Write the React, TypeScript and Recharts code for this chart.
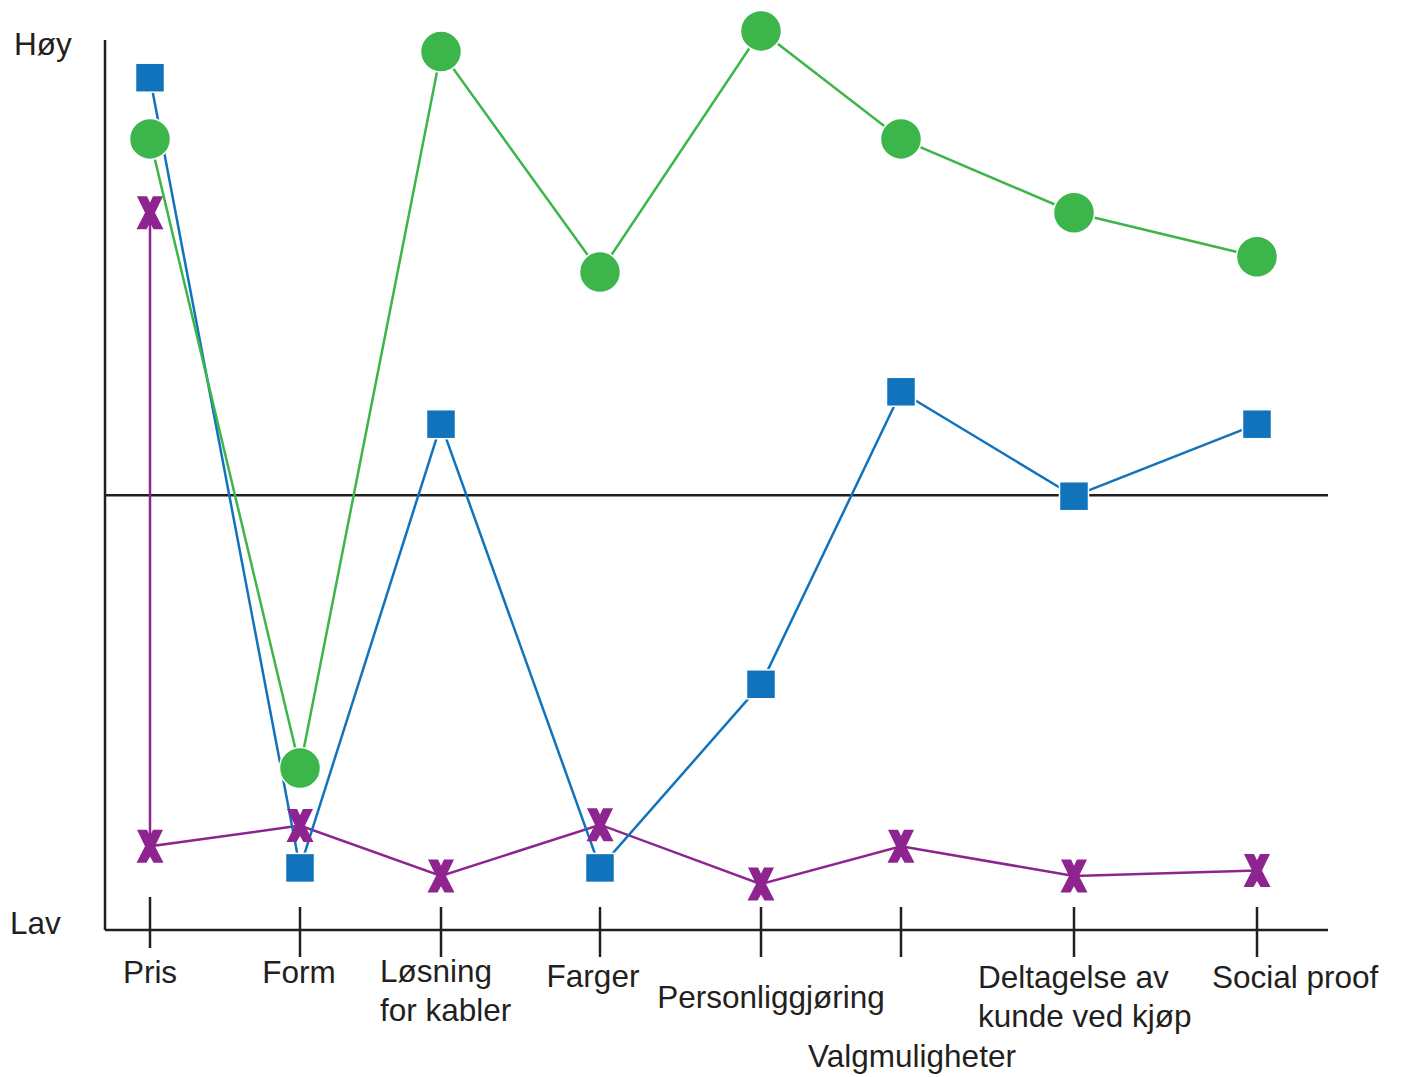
import { LineChart, Line, XAxis, YAxis, ReferenceLine } from 'recharts'

document.body.style.margin = '0'

// categories along the bottom (line breaks as in the original)
const categories = [
  'Pris',
  'Form',
  'Løsning\nfor kabler',
  'Farger',
  'Personliggjøring',
  'Valgmuligheter',
  'Deltagelse av\nkunde ved kjøp',
  'Social proof',
]
// categories are not evenly spaced
const categoryX = [45, 195, 336, 495, 656, 796, 969, 1152]

// 0 = Lav, 100 = Høy
const gronn = [87.9, 18.0, 97.6, 73.1, 99.9, 87.9, 79.7, 74.8]
const bla = [94.7, 6.9, 56.2, 6.9, 27.3, 59.8, 48.2, 56.2]
const lilla = [9.3, 11.6, 6.0, 11.7, 5.1, 9.3, 6.0, 6.6]
const lillaPrisTopp = 79.7
const midtlinje = 48.3
const aksetopp = 98.9

const yLabels = ['Lav', 'Høy']
const yLabelLevels = [0.8, 98.5]

const INK = '#231f20'
const GREEN = '#3cb54a'
const BLUE = '#1273bd'
const PURPLE = '#8d2490'
const FONT = '"Liberation Sans", Arial, Helvetica, sans-serif'

// label placement under each tick (dx from tick, baseline dy from axis)
const labelLayout = [
  { dx: 0, dy: 53, anchor: 'middle' },
  { dx: -1, dy: 53, anchor: 'middle' },
  { dx: -61, dy: 52, anchor: 'start' },
  { dx: -7, dy: 57, anchor: 'middle' },
  { dx: 10, dy: 78, anchor: 'middle' },
  { dx: 11, dy: 137, anchor: 'middle' },
  { dx: -96, dy: 58, anchor: 'start' },
  { dx: -45, dy: 58, anchor: 'start' },
]

const greenData = categoryX.map((x, i) => ({ x, y: gronn[i] }))
const blueData = categoryX.map((x, i) => ({ x, y: bla[i] }))
const purpleData = [
  { x: categoryX[0], y: lillaPrisTopp },
  ...categoryX.map((x, i) => ({ x, y: lilla[i] })),
]

function XTick(props: any) {
  const { x, y, payload } = props
  const i = categoryX.indexOf(payload.value)
  if (i < 0) return null
  const lay = labelLayout[i]
  const lines = categories[i].split('\n')
  const top = i === 0 ? -33 : -23
  const bottom = i === 0 ? 18 : 27
  return (
    <g>
      <line x1={x} x2={x} y1={y + top} y2={y + bottom} stroke={INK} strokeWidth={2.5} />
      <text
        x={x + lay.dx}
        y={y + lay.dy}
        textAnchor={lay.anchor as any}
        fontFamily={FONT}
        fontSize={31.5}
        fill={INK}
      >
        {lines.map((l, k) => (
          <tspan key={k} x={x + lay.dx} dy={k === 0 ? 0 : 38.5}>
            {l}
          </tspan>
        ))}
      </text>
    </g>
  )
}

function YTick(props: any) {
  const { y, payload } = props
  const i = yLabelLevels.indexOf(payload.value)
  return (
    <text x={i === 0 ? 10 : 14} y={y + 11} fontFamily={FONT} fontSize={31.5} fill={INK}>
      {yLabels[i]}
    </text>
  )
}

const circleDot = (p: any) => (
  <circle key={p.index} cx={p.cx} cy={p.cy} r={20.5} fill={GREEN} stroke="#fff" strokeWidth={1.5} />
)
const squareDot = (p: any) => (
  <rect key={p.index} x={p.cx - 14.5} y={p.cy - 14.5} width={29} height={29} fill={BLUE} stroke="#fff" strokeWidth={1.5} />
)
const xDot = (p: any) => {
  const { cx, cy } = p
  const pts = [
    [-13, -16.5], [-3, -16.5], [0, -10.3], [3, -16.5], [13, -16.5], [5, 0],
    [13.5, 16.5], [3.5, 16.5], [0, 10.3], [-3.5, 16.5], [-13.5, 16.5], [-5, 0],
  ]
  return (
    <polygon key={p.index} points={pts.map(([a, b]) => `${cx + a},${cy + b}`).join(' ')} fill={PURPLE} />
  )
}

export default function App() {
  return (
    <div style={{ width: 1402, height: 1077, background: '#fff' }}>
      <LineChart width={1402} height={1077} margin={{ top: 30, right: 74, bottom: 0, left: 0 }}>
        <XAxis
          type="number"
          dataKey="x"
          domain={[0, 1223]}
          ticks={categoryX}
          interval={0}
          height={147}
          tickSize={0}
          tickMargin={0}
          tickLine={false}
          axisLine={{ stroke: INK, strokeWidth: 2.5 }}
          tick={<XTick />}
        />
        <YAxis
          type="number"
          domain={[0, 100]}
          width={105}
          ticks={yLabelLevels}
          interval={0}
          tickLine={false}
          axisLine={false}
          tick={<YTick />}
        />
        <ReferenceLine
          segment={[{ x: 0, y: aksetopp }, { x: 0, y: 0 }]}
          stroke={INK}
          strokeWidth={2.5}
        />
        <ReferenceLine y={midtlinje} stroke={INK} strokeWidth={2.5} />
        <Line
          data={purpleData}
          dataKey="y"
          stroke={PURPLE}
          strokeWidth={2.5}
          dot={xDot}
          activeDot={false}
          isAnimationActive={false}
        />
        <Line
          data={blueData}
          dataKey="y"
          stroke={BLUE}
          strokeWidth={2.5}
          dot={squareDot}
          activeDot={false}
          isAnimationActive={false}
        />
        <Line
          data={greenData}
          dataKey="y"
          stroke={GREEN}
          strokeWidth={2.5}
          dot={circleDot}
          activeDot={false}
          isAnimationActive={false}
        />
      </LineChart>
    </div>
  )
}
